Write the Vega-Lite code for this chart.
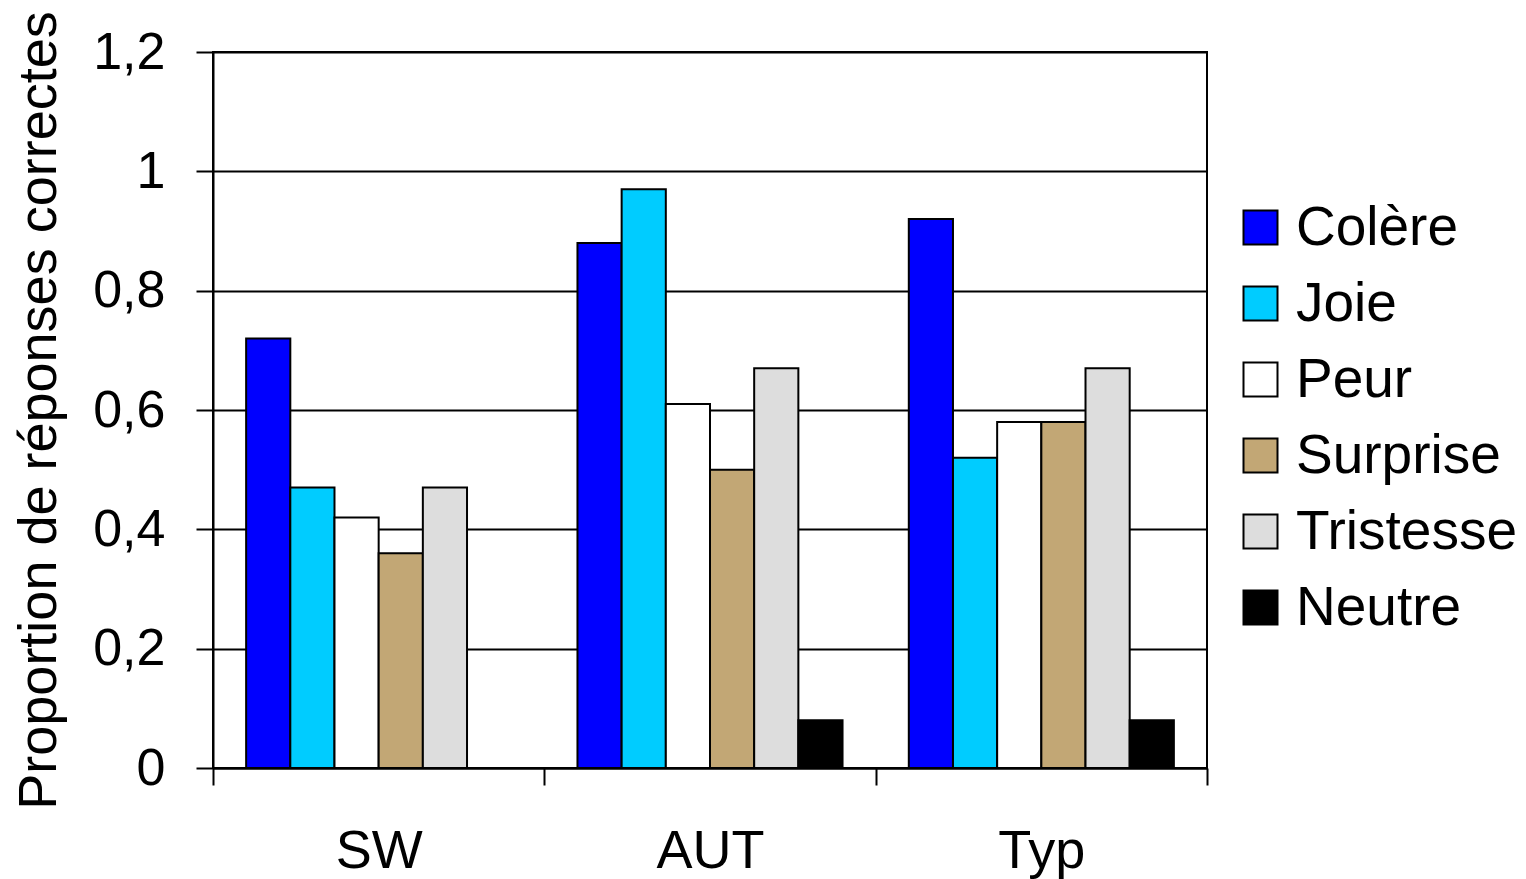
{
  "$schema": "https://vega.github.io/schema/vega-lite/v6.json",
  "autosize": "none",
  "width": 994,
  "height": 716,
  "padding": {"left": 213, "top": 52, "right": 319, "bottom": 111},
  "background": "white",
  "config": {
    "font": "Liberation Sans",
    "view": {"stroke": "black", "strokeWidth": 2},
    "axis": {"labelColor": "black", "titleColor": "black", "domainColor": "black", "tickColor": "black", "domainWidth": 2, "tickWidth": 2}
  },
  "data": {
    "values": [
      {"groupe": "SW", "emotion": "Colère", "proportion": 0.72},
      {"groupe": "SW", "emotion": "Joie", "proportion": 0.47},
      {"groupe": "SW", "emotion": "Peur", "proportion": 0.42},
      {"groupe": "SW", "emotion": "Surprise", "proportion": 0.36},
      {"groupe": "SW", "emotion": "Tristesse", "proportion": 0.47},
      {"groupe": "AUT", "emotion": "Colère", "proportion": 0.88},
      {"groupe": "AUT", "emotion": "Joie", "proportion": 0.97},
      {"groupe": "AUT", "emotion": "Peur", "proportion": 0.61},
      {"groupe": "AUT", "emotion": "Surprise", "proportion": 0.50},
      {"groupe": "AUT", "emotion": "Tristesse", "proportion": 0.67},
      {"groupe": "AUT", "emotion": "Neutre", "proportion": 0.08},
      {"groupe": "Typ", "emotion": "Colère", "proportion": 0.92},
      {"groupe": "Typ", "emotion": "Joie", "proportion": 0.52},
      {"groupe": "Typ", "emotion": "Peur", "proportion": 0.58},
      {"groupe": "Typ", "emotion": "Surprise", "proportion": 0.58},
      {"groupe": "Typ", "emotion": "Tristesse", "proportion": 0.67},
      {"groupe": "Typ", "emotion": "Neutre", "proportion": 0.08}
    ]
  },
  "mark": {"type": "bar", "stroke": "black", "strokeWidth": 2},
  "encoding": {
    "x": {
      "field": "groupe",
      "type": "nominal",
      "sort": ["SW", "AUT", "Typ"],
      "scale": {"paddingInner": 0, "paddingOuter": 0},
      "axis": {
        "title": null,
        "labelAngle": 0,
        "labelFontSize": 54,
        "labelPadding": 39,
        "tickBand": "extent",
        "tickSize": 17
      }
    },
    "xOffset": {
      "field": "emotion",
      "type": "nominal",
      "sort": ["Colère", "Joie", "Peur", "Surprise", "Tristesse", "Neutre"],
      "scale": {"paddingInner": 0, "paddingOuter": 0.75}
    },
    "y": {
      "field": "proportion",
      "type": "quantitative",
      "scale": {"domain": [0, 1.2], "nice": false},
      "axis": {
        "title": "Proportion de réponses correctes",
        "titleFontSize": 54,
        "titleFontWeight": "normal",
        "titlePadding": 26,
        "values": [0, 0.2, 0.4, 0.6, 0.8, 1, 1.2],
        "labelExpr": "replace(format(datum.value, '.1~f'), '.', ',')",
        "labelFontSize": 52,
        "labelPadding": 31,
        "tickSize": 17,
        "grid": true,
        "gridColor": "black",
        "gridWidth": 2,
        "gridOpacity": 1
      }
    },
    "color": {
      "field": "emotion",
      "type": "nominal",
      "scale": {
        "domain": ["Colère", "Joie", "Peur", "Surprise", "Tristesse", "Neutre"],
        "range": ["#0000FF", "#00CCFF", "#FFFFFF", "#C2A775", "#DDDDDD", "#000000"]
      },
      "legend": {
        "title": null,
        "orient": "none",
        "legendX": 1020,
        "legendY": 148,
        "symbolType": "square",
        "symbolSize": 1156,
        "symbolStrokeColor": "black",
        "symbolStrokeWidth": 2,
        "symbolOpacity": 1,
        "labelFontSize": 55,
        "labelColor": "black",
        "labelOffset": 8,
        "rowPadding": 20,
        "labelLimit": 400
      }
    }
  }
}
